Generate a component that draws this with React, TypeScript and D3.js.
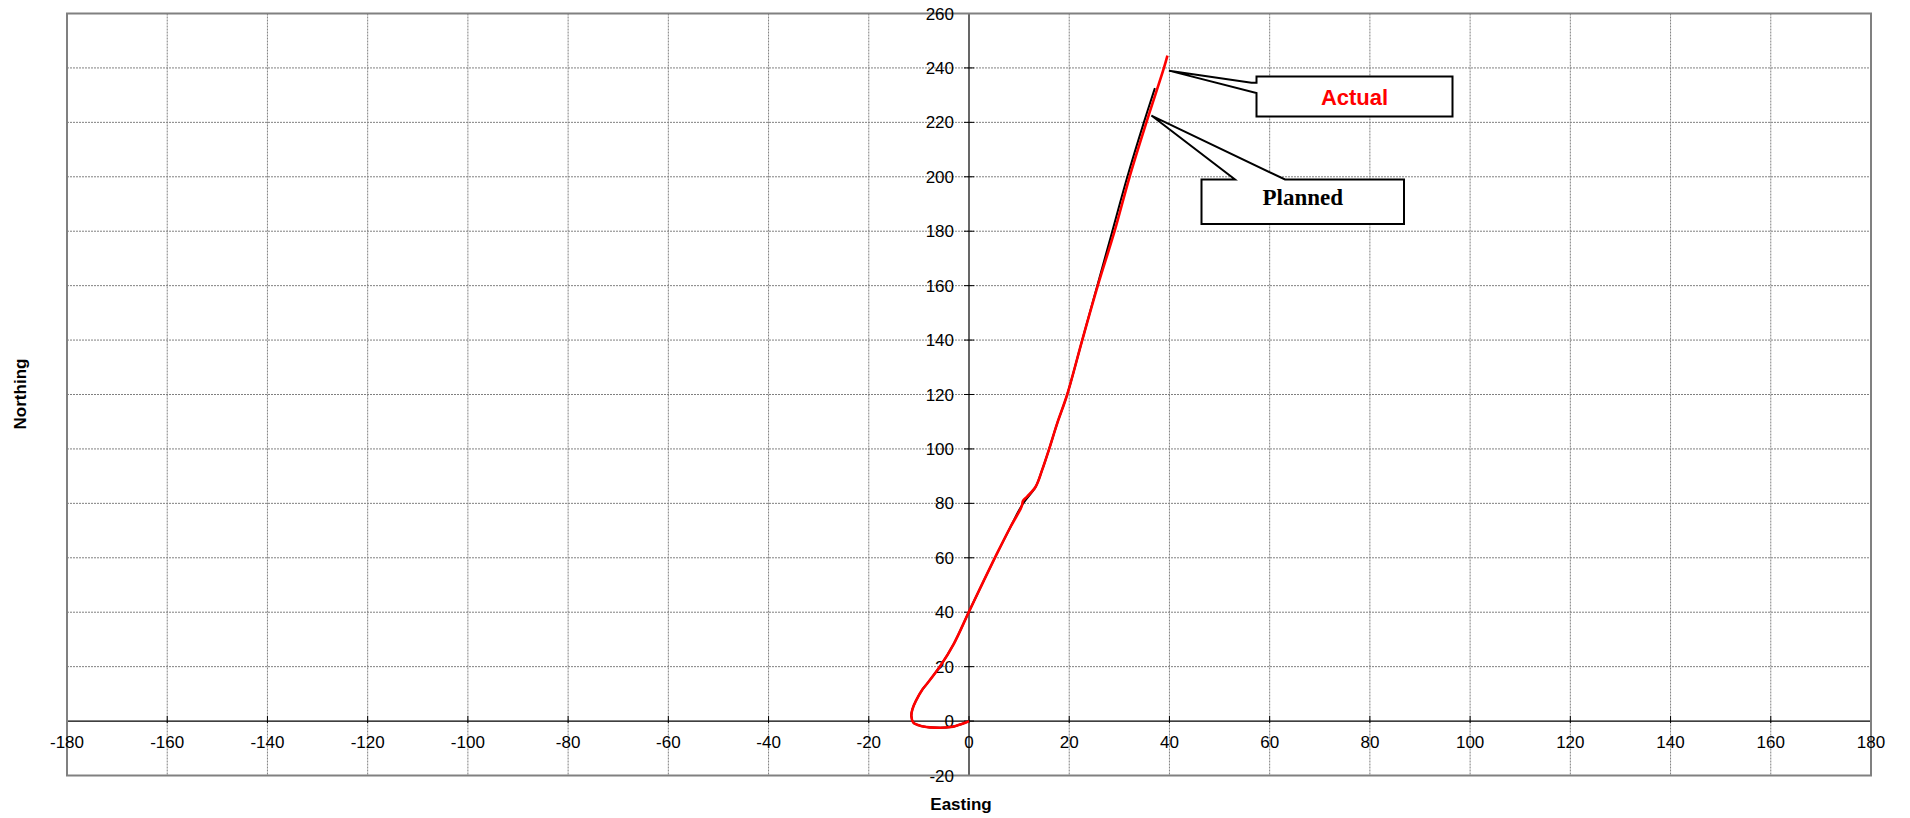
import React from "react";
import * as d3 from "d3";

const xTicks = [-180, -160, -140, -120, -100, -80, -60, -40, -20, 0, 20, 40, 60, 80, 100, 120, 140, 160, 180];
const yTicks = [-20, 0, 20, 40, 60, 80, 100, 120, 140, 160, 180, 200, 220, 240, 260];

// Actual survey (Easting, Northing)
const actualE = [0, -1.3, -3.6, -7, -9.6, -11.1, -11.5, -11.3, -10.6, -9.3, -8.3, -5.6, -3, 0, 3, 5.6, 8.3, 10.5, 10.8, 11.6, 13.3, 14.6, 16, 17.6, 19.6, 22.6, 25.7, 29.05, 32.05, 35.4, 38.9, 39.6];
const actualN = [0, -1.0, -2.2, -2.4, -1.8, -0.6, 1.8, 4.3, 7.4, 11.6, 13.9, 20.6, 28.5, 40.2, 51.8, 61.6, 71.4, 78.8, 81, 82.5, 86.1, 92.3, 100, 109.4, 120, 140, 160, 180, 200, 220, 240, 244.5];

// Planned well path (Easting, Northing)
const plannedE = [0, -1.3, -3.6, -7, -9.6, -11.1, -11.5, -11.3, -10.6, -9.3, -8.3, -5.6, -3, 0, 3, 5.6, 8.3, 10.6, 13.3, 14.6, 16, 17.6, 19.6, 22.6, 25.6, 28.6, 31.6, 34.9, 37.1];
const plannedN = [0, -1.0, -2.2, -2.4, -1.8, -0.6, 1.8, 4.3, 7.4, 11.6, 13.9, 20.6, 28.5, 40.2, 51.8, 61.6, 71.4, 79.4, 86.1, 92.3, 100, 109.4, 120, 140, 160, 180, 200, 220, 232.6];

const actualTip = [39.9, 239];
const plannedTip = [36.4, 222.5];

export default function App() {
  const W = 1910, H = 818;
  const x = d3.scaleLinear().domain([-180, 180]).range([67, 1871]);
  const y = d3.scaleLinear().domain([-20, 260]).range([775.5, 13.5]);
  const font = "Arial, 'Liberation Sans', sans-serif";

  const line = d3.line<[number, number]>()
    .x((d) => x(d[0]))
    .y((d) => y(d[1]))
    .curve(d3.curveCatmullRom.alpha(0.5));

  const actualPts: [number, number][] = actualE.map((e, i) => [e, actualN[i]]);
  const plannedPts: [number, number][] = plannedE.map((e, i) => [e, plannedN[i]]);

  const x0 = x(0), y0 = y(0);
  const [l, r] = x.range();
  const [b, t] = y.range();

  // callouts
  const aTx = x(actualTip[0]), aTy = y(actualTip[1]);
  const aBox = { x1: 1256.5, y1: 76.5, x2: 1452.5, y2: 116.5 };
  const aPath = `M${aBox.x1},${aBox.y1} L${aBox.x2},${aBox.y1} L${aBox.x2},${aBox.y2} L${aBox.x1},${aBox.y2} L${aBox.x1},93 L${aTx},${aTy} L${aBox.x1 - 5},82.7 L${aBox.x1},82.7 Z`;
  const pTx = x(plannedTip[0]), pTy = y(plannedTip[1]);
  const pBox = { x1: 1201.5, y1: 179.5, x2: 1404, y2: 224 };
  const pPath = `M${pBox.x1},${pBox.y1} L1235,${pBox.y1} L${pTx},${pTy} L1285,${pBox.y1} L${pBox.x2},${pBox.y1} L${pBox.x2},${pBox.y2} L${pBox.x1},${pBox.y2} Z`;

  return (
    <svg width={W} height={H} style={{ position: "absolute", left: 0, top: 0, background: "#fff" }}>
      <rect x={0} y={0} width={W} height={H} fill="#fff" />
      {/* grid */}
      {xTicks.filter((v) => v !== 0 && v > -180 && v < 180).map((v) => (
        <line key={"gx" + v} x1={x(v)} x2={x(v)} y1={t} y2={b} stroke="#808080" strokeWidth={1} strokeDasharray="2 1" />
      ))}
      {yTicks.filter((v) => v !== 0 && v > -20 && v < 260).map((v) => (
        <line key={"gy" + v} x1={l} x2={r} y1={y(v)} y2={y(v)} stroke="#808080" strokeWidth={1} strokeDasharray="2 1" />
      ))}
      {/* axes */}
      <line x1={l} x2={r} y1={y0} y2={y0} stroke="#000" strokeWidth={1.2} />
      <line x1={x0} x2={x0} y1={t} y2={b} stroke="#000" strokeWidth={1.2} />
      {xTicks.map((v) => (
        <line key={"tx" + v} x1={x(v)} x2={x(v)} y1={y0 - 5} y2={y0 + 2} stroke="#000" strokeWidth={1} />
      ))}
      {yTicks.map((v) => (
        <line key={"ty" + v} x1={x0 - 5} x2={x0 + 5} y1={y(v)} y2={y(v)} stroke="#000" strokeWidth={1} />
      ))}
      {/* border */}
      <rect x={l} y={t} width={r - l} height={b - t} fill="none" stroke="#808080" strokeWidth={2} />
      {/* tick labels */}
      {xTicks.map((v) => (
        <text key={"lx" + v} x={x(v)} y={y0 + 27} textAnchor="middle" fontFamily={font} fontSize={17} fill="#000">{v}</text>
      ))}
      {yTicks.map((v) => (
        <text key={"ly" + v} x={x0 - 15} y={y(v) + 6} textAnchor="end" fontFamily={font} fontSize={17} fill="#000">{v}</text>
      ))}
      {/* series */}
      <path d={line(plannedPts) || ""} fill="none" stroke="#000" strokeWidth={2} />
      <path d={line(actualPts) || ""} fill="none" stroke="#ff0000" strokeWidth={2.6} />
      {/* callouts */}
      <path d={aPath} fill="#fff" stroke="#000" strokeWidth={2} strokeLinejoin="miter" />
      <text x={(aBox.x1 + aBox.x2) / 2} y={105} textAnchor="middle" fontFamily={font} fontWeight="bold" fontSize={22} fill="#ff0000">Actual</text>
      <path d={pPath} fill="#fff" stroke="#000" strokeWidth={2} strokeLinejoin="miter" />
      <text x={(pBox.x1 + pBox.x2) / 2} y={205} textAnchor="middle" fontFamily="'Times New Roman', 'Liberation Serif', serif" fontWeight="bold" fontSize={23} fill="#000">Planned</text>
      {/* axis titles */}
      <text x={961} y={810} textAnchor="middle" fontFamily={font} fontWeight="bold" fontSize={17} fill="#000">Easting</text>
      <text transform="translate(26,394) rotate(-90)" textAnchor="middle" fontFamily={font} fontWeight="bold" fontSize={17} fill="#000">Northing</text>
    </svg>
  );
}
